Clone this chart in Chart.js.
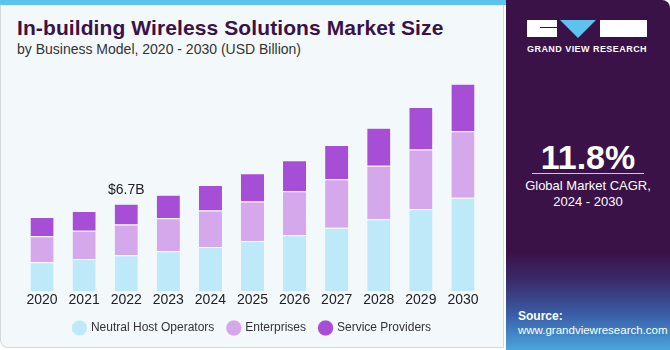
<!DOCTYPE html>
<html>
<head>
<meta charset="utf-8">
<script src="https://cdn.jsdelivr.net/npm/chart.js@4/dist/chart.umd.min.js"></script>
<style>
  html,body{margin:0;padding:0;width:670px;height:350px;overflow:hidden;background:#fff;font-family:"Liberation Sans",Arial,sans-serif;}
  #left{position:absolute;left:0;top:0;width:504px;height:348px;background:#f3f8fb;border:1px solid #d4d8dc;border-top:none;border-radius:0 0 0 8px;box-sizing:border-box;}
  #stripe{position:absolute;left:0;top:0;width:506px;height:5px;background:#5bc3ee;}
  #right{position:absolute;left:506px;top:0;width:164px;height:350px;border-radius:0 8px 0 0;
    background:linear-gradient(to bottom,#3a1248 0%,#3a1248 72%,#3b2a6a 80%,#3a5ea8 90%,#49a6dc 100%);}
  #title{position:absolute;left:17px;top:16px;font-size:21px;font-weight:bold;color:#3a1248;white-space:nowrap;letter-spacing:0.1px;}
  #sub{position:absolute;left:17px;top:41px;font-size:14px;color:#333;white-space:nowrap;}
  #chartwrap{position:absolute;left:0;top:0;width:504px;height:350px;}
  .w{position:absolute;color:#fff;white-space:nowrap;}
</style>
</head>
<body>
<div id="left"></div>
<div id="stripe"></div>
<div id="right">
  <div style="position:absolute;left:21px;top:20px;width:30px;height:17px;background:#fff;"></div>
  <div style="position:absolute;left:34px;top:27px;width:17px;height:1px;background:#3a1248;"></div>
  <div style="position:absolute;left:54px;top:20px;width:0;height:0;border-left:18px solid transparent;border-right:18px solid transparent;border-top:18px solid #5bc3ee;"></div>
  <div style="position:absolute;left:94px;top:20px;width:47px;height:17px;background:#fff;"></div>
  <div class="w" style="left:21px;top:44px;font-size:9px;font-weight:bold;letter-spacing:0.45px;">GRAND VIEW RESEARCH</div>
  <div class="w" style="left:0;width:164px;text-align:center;top:138px;font-size:34px;font-weight:bold;">11.8%</div>
  <div style="position:absolute;left:26px;top:173px;width:112px;height:1px;background:#cfc6d6;"></div>
  <div class="w" style="left:0;width:164px;text-align:center;top:178px;font-size:13px;line-height:16px;">Global Market CAGR,<br>2024 - 2030</div>
  <div class="w" style="left:12px;top:309px;font-size:12px;font-weight:bold;">Source:</div>
  <div class="w" style="left:12px;top:324px;font-size:11.5px;">www.grandviewresearch.com</div>
</div>
<div id="title">In-building Wireless Solutions Market Size</div>
<div id="sub">by Business Model, 2020 - 2030 (USD Billion)</div>
<div id="chartwrap"><canvas id="c" width="504" height="350"></canvas></div>
<script>
const years = ["2020","2021","2022","2023","2024","2025","2026","2027","2028","2029","2030"];
const neutralHost = [2.23,2.48,2.76,3.07,3.39,3.85,4.30,4.86,5.51,6.27,7.15];
const enterprises = [1.99,2.15,2.35,2.52,2.80,3.03,3.36,3.71,4.09,4.57,5.10];
const serviceProviders = [1.47,1.51,1.59,1.79,1.95,2.15,2.37,2.62,2.91,3.26,3.63];
const annotationIndex = 2;
const annotationText = "$6.7B";

const annot = {
  id:'annot',
  afterDatasetsDraw(chart){
    const meta = chart.getDatasetMeta(2);
    const bar = meta.data[annotationIndex];
    const ctx = chart.ctx;
    ctx.save();
    ctx.font = '14px "Liberation Sans", Arial, sans-serif';
    ctx.fillStyle = '#222';
    ctx.textAlign = 'center';
    ctx.textBaseline = 'bottom';
    ctx.fillText(annotationText, bar.x, bar.y - 7);
    ctx.restore();
  }
};

new Chart(document.getElementById('c'), {
  type:'bar',
  data:{
    labels: years,
    datasets:[
      {label:'Neutral Host Operators', data: neutralHost, backgroundColor:'#bde9f9'},
      {label:'Enterprises', data: enterprises, backgroundColor:'#d5a7eb'},
      {label:'Service Providers', data: serviceProviders, backgroundColor:'#a64fd6'}
    ].map(d=>Object.assign(d,{categoryPercentage:0.55,barPercentage:1,borderWidth:{top:1},borderColor:'rgba(255,255,255,0.6)',borderSkipped:false}))
  },
  options:{
    responsive:false,
    animation:false,
    layout:{padding:{left:21,right:20,top:69,bottom:6}},
    scales:{
      x:{stacked:true,grid:{display:false,drawTicks:false},border:{display:false},
         ticks:{color:'#222',font:{size:14,lineHeight:0.9,family:'"Liberation Sans", Arial, sans-serif'},padding:2,maxRotation:0}},
      y:{stacked:true,display:false,min:0,max:17}
    },
    plugins:{
      legend:{position:'bottom',
        labels:{usePointStyle:true,pointStyle:'circle',boxWidth:11,boxHeight:11,padding:14,color:'#333',
          font:{size:12,family:'"Liberation Sans", Arial, sans-serif'}}},
      tooltip:{enabled:false}
    }
  },
  plugins:[annot]
});
</script>
</body>
</html>
